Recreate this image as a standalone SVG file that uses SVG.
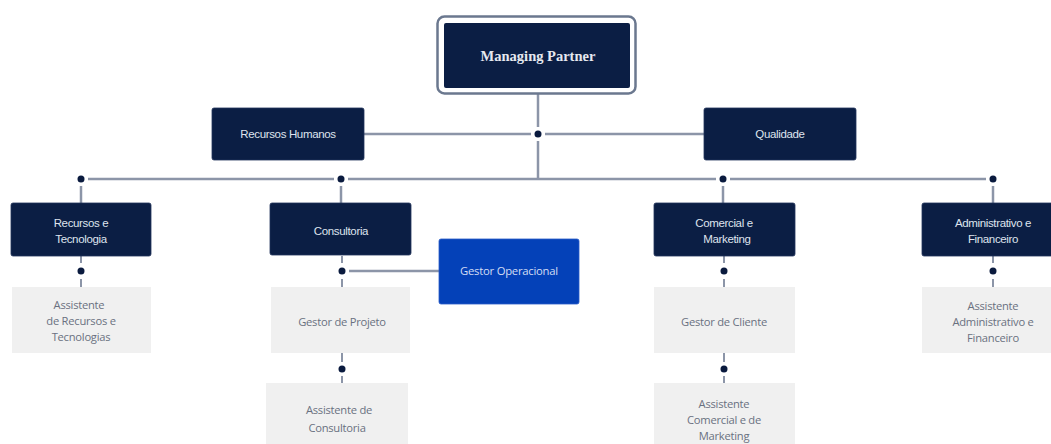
<svg xmlns="http://www.w3.org/2000/svg" width="1051" height="444" viewBox="0 0 1051 444">
  <style>
    .dark { fill: #0b1e44; stroke: #22345a; stroke-width: 0.8; }
    .light { fill: #f0f0f0; }
    .blue { fill: #0441b8; stroke: #2a5cc8; stroke-width: 0.8; }
    .t-dark { font-family: "Liberation Sans", Arial, sans-serif; font-size: 11.5px; fill: #dfe4ee; text-anchor: middle; letter-spacing: -0.35px; }
    .t-light { font-family: "Open Sans", "Liberation Sans", sans-serif; font-size: 11.2px; fill: #6a7080; text-anchor: middle; letter-spacing: -0.25px; }
    .t-blue { font-family: "Open Sans", "Liberation Sans", sans-serif; font-size: 11.3px; fill: #d3ddf3; text-anchor: middle; letter-spacing: -0.25px; }
    .t-head { font-family: "Liberation Serif", "Times New Roman", serif; font-weight: bold; font-size: 14.5px; fill: #e6e9f0; text-anchor: middle; }
    .ln { stroke: #8c95a8; stroke-width: 2.5; fill: none; }
    .dash { stroke: #8c95a8; stroke-width: 2; fill: none; }
    .dot { fill: #0a1a3e; }
  </style>

  <!-- connectors -->
  <g id="connectors">
    <!-- top trunk -->
    <line class="ln" x1="538" y1="94" x2="538" y2="127"/>
    <line class="ln" x1="538" y1="141" x2="538" y2="179"/>
    <line class="ln" x1="364" y1="134" x2="531" y2="134"/>
    <line class="ln" x1="545" y1="134" x2="704" y2="134"/>
    <circle class="dot" cx="538" cy="134" r="3.5"/>
    <!-- main bus -->
    <line class="ln" x1="88" y1="179" x2="334" y2="179"/>
    <line class="ln" x1="348" y1="179" x2="716" y2="179"/>
    <line class="ln" x1="730" y1="179" x2="986" y2="179"/>
    <circle class="dot" cx="81" cy="179" r="3.5"/>
    <circle class="dot" cx="341" cy="179" r="3.5"/>
    <circle class="dot" cx="723" cy="179" r="3.5"/>
    <circle class="dot" cx="993" cy="179" r="3.5"/>
    <line class="ln" x1="81" y1="186" x2="81" y2="203"/>
    <line class="ln" x1="341" y1="186" x2="341" y2="203"/>
    <line class="ln" x1="723" y1="186" x2="723" y2="203"/>
    <line class="ln" x1="993" y1="186" x2="993" y2="203"/>
    <!-- level 2 to level 3 -->
    <line class="dash" x1="81" y1="256" x2="81" y2="263"/>
    <circle class="dot" cx="81" cy="271" r="3.5"/>
    <line class="dash" x1="81" y1="279" x2="81" y2="287"/>
    <line class="dash" x1="342" y1="256" x2="342" y2="263"/>
    <circle class="dot" cx="342" cy="271" r="3.5"/>
    <line class="dash" x1="342" y1="279" x2="342" y2="287"/>
    <line class="ln" x1="349" y1="271" x2="439" y2="271"/>
    <line class="dash" x1="724" y1="256" x2="724" y2="263"/>
    <circle class="dot" cx="724" cy="271" r="3.5"/>
    <line class="dash" x1="724" y1="279" x2="724" y2="287"/>
    <line class="dash" x1="993" y1="256" x2="993" y2="263"/>
    <circle class="dot" cx="993" cy="271" r="3.5"/>
    <line class="dash" x1="993" y1="279" x2="993" y2="287"/>
    <!-- level 3 to level 4 -->
    <line class="dash" x1="342" y1="353" x2="342" y2="362"/>
    <circle class="dot" cx="342" cy="369" r="3.5"/>
    <line class="dash" x1="342" y1="376" x2="342" y2="383"/>
    <line class="dash" x1="724" y1="353" x2="724" y2="362"/>
    <circle class="dot" cx="724" cy="369" r="3.5"/>
    <line class="dash" x1="724" y1="376" x2="724" y2="383"/>
  </g>

  <!-- top -->
  <g id="managing-partner">
    <rect x="437.5" y="16.5" width="198" height="77" rx="7" fill="#ffffff" stroke="#6b788f" stroke-width="2.5"/>
    <rect x="444" y="23" width="186" height="65" rx="2" fill="#0b1e44"/>
    <text class="t-head" x="538" y="61">Managing Partner</text>
  </g>

  <g id="recursos-humanos">
    <rect class="dark" x="212" y="108" width="152" height="52" rx="2"/>
    <text class="t-dark" x="288" y="138">Recursos Humanos</text>
  </g>
  <g id="qualidade">
    <rect class="dark" x="704" y="108" width="152" height="52" rx="2"/>
    <text class="t-dark" x="780" y="138">Qualidade</text>
  </g>

  <!-- level 2 -->
  <g id="recursos-tecnologia">
    <rect class="dark" x="11" y="203" width="140" height="53" rx="2"/>
    <text class="t-dark" x="81" y="227">Recursos e</text>
    <text class="t-dark" x="81" y="243">Tecnologia</text>
  </g>
  <g id="consultoria">
    <rect class="dark" x="270" y="203" width="141" height="52" rx="2"/>
    <text class="t-dark" x="341" y="235">Consultoria</text>
  </g>
  <g id="comercial-marketing">
    <rect class="dark" x="654" y="203" width="141" height="53" rx="2"/>
    <text class="t-dark" x="724" y="227">Comercial e</text>
    <text class="t-dark" x="727" y="243">Marketing</text>
  </g>
  <g id="administrativo-financeiro">
    <rect class="dark" x="922" y="203" width="140" height="53" rx="2"/>
    <text class="t-dark" x="993" y="227">Administrativo e</text>
    <text class="t-dark" x="993" y="243">Financeiro</text>
  </g>

  <g id="gestor-operacional">
    <rect class="blue" x="439" y="239" width="140" height="65" rx="2"/>
    <text class="t-blue" x="509" y="275">Gestor Operacional</text>
  </g>

  <!-- level 3 -->
  <g id="assistente-recursos-tecnologias">
    <rect class="light" x="12" y="287" width="139" height="66"/>
    <text class="t-light" x="79" y="309">Assistente</text>
    <text class="t-light" x="81" y="325">de Recursos e</text>
    <text class="t-light" x="81" y="341">Tecnologias</text>
  </g>
  <g id="gestor-projeto">
    <rect class="light" x="271" y="287" width="139" height="66"/>
    <text class="t-light" x="342" y="326">Gestor de Projeto</text>
  </g>
  <g id="gestor-cliente">
    <rect class="light" x="654" y="287" width="141" height="66"/>
    <text class="t-light" x="724" y="326">Gestor de Cliente</text>
  </g>
  <g id="assistente-administrativo-financeiro">
    <rect class="light" x="922" y="287" width="140" height="66"/>
    <text class="t-light" x="993" y="310">Assistente</text>
    <text class="t-light" x="993" y="326">Administrativo e</text>
    <text class="t-light" x="993" y="342">Financeiro</text>
  </g>

  <!-- level 4 -->
  <g id="assistente-consultoria">
    <rect class="light" x="266" y="383" width="142" height="66"/>
    <text class="t-light" x="339" y="414">Assistente de</text>
    <text class="t-light" x="337" y="432">Consultoria</text>
  </g>
  <g id="assistente-comercial-marketing">
    <rect class="light" x="654" y="383" width="141" height="66"/>
    <text class="t-light" x="724" y="408">Assistente</text>
    <text class="t-light" x="724" y="424">Comercial e de</text>
    <text class="t-light" x="724" y="440">Marketing</text>
  </g>
</svg>
